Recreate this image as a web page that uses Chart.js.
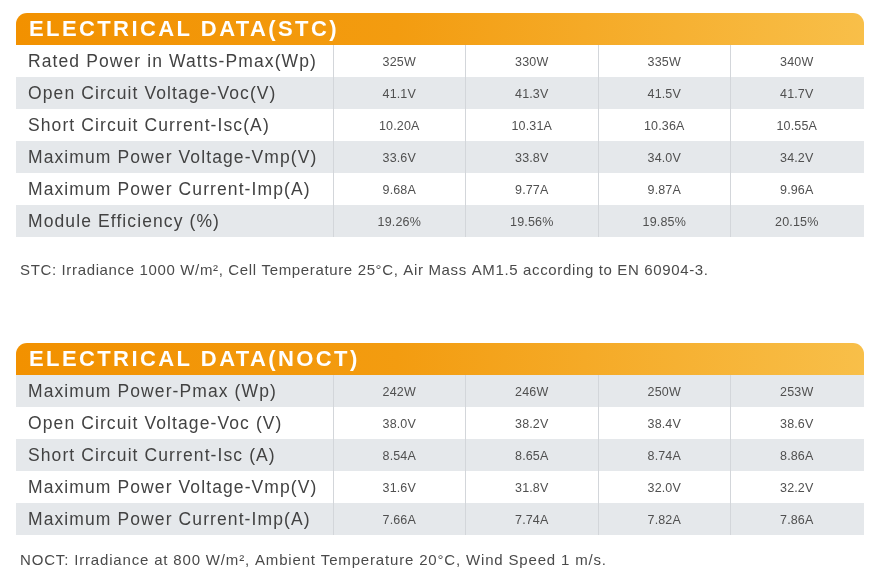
<!DOCTYPE html>
<html><head><meta charset="utf-8">
<script src="https://cdn.jsdelivr.net/npm/chart.js@4.4.1/dist/chart.umd.min.js"></script>
<style>
html,body{margin:0;padding:0;background:#fff;}
#wrap{position:relative;width:883px;height:585px;overflow:hidden;}
.box{position:absolute;left:0;width:883px;}
</style></head><body>
<div id="wrap">
  <div class="box" style="top:0;height:292px"><canvas id="stc"></canvas></div>
  <div class="box" style="top:292px;height:293px"><canvas id="noct"></canvas></div>
</div>
<script>
// ---- data ----
const columns = ['325W', '330W', '335W', '340W'];

const stcTitle = 'ELECTRICAL DATA(STC)';
const stcNote = 'STC: Irradiance 1000 W/m², Cell Temperature 25°C, Air Mass AM1.5 according to EN 60904-3.';
const stcRowLabels = [
  'Rated Power in Watts-Pmax(Wp)',
  'Open Circuit Voltage-Voc(V)',
  'Short Circuit Current-Isc(A)',
  'Maximum Power Voltage-Vmp(V)',
  'Maximum Power Current-Imp(A)',
  'Module Efficiency (%)'
];
const stcPmax = ['325W', '330W', '335W', '340W'];
const stcVoc = ['41.1V', '41.3V', '41.5V', '41.7V'];
const stcIsc = ['10.20A', '10.31A', '10.36A', '10.55A'];
const stcVmp = ['33.6V', '33.8V', '34.0V', '34.2V'];
const stcImp = ['9.68A', '9.77A', '9.87A', '9.96A'];
const stcEff = ['19.26%', '19.56%', '19.85%', '20.15%'];

const noctTitle = 'ELECTRICAL DATA(NOCT)';
const noctNote = 'NOCT: Irradiance at 800 W/m², Ambient Temperature 20°C, Wind Speed 1 m/s.';
const noctRowLabels = [
  'Maximum Power-Pmax (Wp)',
  'Open Circuit Voltage-Voc (V)',
  'Short Circuit Current-Isc (A)',
  'Maximum Power Voltage-Vmp(V)',
  'Maximum Power Current-Imp(A)'
];
const noctPmax = ['242W', '246W', '250W', '253W'];
const noctVoc = ['38.0V', '38.2V', '38.4V', '38.6V'];
const noctIsc = ['8.54A', '8.65A', '8.74A', '8.86A'];
const noctVmp = ['31.6V', '31.8V', '32.0V', '32.2V'];
const noctImp = ['7.66A', '7.74A', '7.82A', '7.86A'];

// ---- styling ----
const FONT = '"Liberation Sans", Arial, Helvetica, sans-serif';
const TABLE_LEFT = 16;
const HEADER_H = 32;

function fitSpacing(ctx, text, width) {
  ctx.letterSpacing = '0px';
  const w = ctx.measureText(text).width;
  return Math.max(0, (width - w) / (text.length - 1));
}

const tablePlugin = {
  id: 'tablePlugin',
  beforeDraw(chart, args, opts) {
    const {ctx, chartArea: a, scales: {y}} = chart;
    const n = y.getLabels().length;
    const band = (a.bottom - a.top) / n;
    const right = a.right + 1;
    ctx.save();
    const g = ctx.createLinearGradient(TABLE_LEFT, 0, right, 0);
    g.addColorStop(0, '#F29100');
    g.addColorStop(0.45, '#F39C10');
    g.addColorStop(1, '#F8BF49');
    ctx.fillStyle = g;
    ctx.beginPath();
    ctx.roundRect(TABLE_LEFT, a.top - HEADER_H, right - TABLE_LEFT, HEADER_H, [11, 11, 0, 0]);
    ctx.fill();
    ctx.fillStyle = '#E5E8EB';
    for (let i = 0; i < n; i++) {
      if (i % 2 === opts.stripe) {
        const cy = y.getPixelForValue(i);
        ctx.fillRect(TABLE_LEFT, cy - band / 2, right - TABLE_LEFT, band);
      }
    }
    ctx.restore();
    ctx.letterSpacing = '1.1px'; // row label tracking (used by y-axis ticks)
  },
  beforeDatasetsDraw(chart) {
    chart.ctx.letterSpacing = '0px';
  },
  afterDatasetsDraw(chart, args, opts) {
    const ctx = chart.ctx;
    ctx.save();
    ctx.letterSpacing = '0.15px';
    ctx.font = '12.5px ' + FONT;
    ctx.fillStyle = '#505050';
    ctx.textAlign = 'center';
    ctx.textBaseline = 'middle';
    chart.data.datasets.forEach((ds, r) => {
      const meta = chart.getDatasetMeta(r);
      meta.data.forEach((el, c) => {
        ctx.fillText(ds.data[c].text, el.x, el.y + 1.5);
      });
    });
    ctx.restore();
  },
  afterDraw(chart, args, opts) {
    const {ctx, chartArea: a} = chart;
    ctx.save();
    ctx.textAlign = 'left';
    ctx.textBaseline = 'alphabetic';
    ctx.fillStyle = '#FFFFFF';
    ctx.font = 'bold 22px ' + FONT;
    ctx.letterSpacing = '2.4px';
    ctx.fillText(opts.title, 29, a.top - 9);
    ctx.fillStyle = '#4A4A4A';
    ctx.font = '15px ' + FONT;
    ctx.letterSpacing = fitSpacing(ctx, opts.note, opts.noteWidth) + 'px';
    ctx.fillText(opts.note, 20, a.bottom + opts.noteGap);
    ctx.restore();
    ctx.letterSpacing = '0px';
  }
};

function makeTable(id, rowLabels, rows, opt) {
  const datasets = rows.map((vals, r) => ({
    label: rowLabels[r],
    data: vals.map((v, c) => ({x: columns[c], y: rowLabels[r], text: v})),
    pointRadius: 0,
    pointHoverRadius: 0
  }));
  return new Chart(document.getElementById(id), {
    type: 'scatter',
    data: {datasets},
    options: {
      responsive: true,
      maintainAspectRatio: false,
      animation: false,
      events: [],
      layout: {padding: {top: opt.top, left: 28, right: 20, bottom: opt.bottom}},
      plugins: {
        legend: {display: false},
        tooltip: {enabled: false},
        tablePlugin: {stripe: opt.stripe, title: opt.title, note: opt.note, noteWidth: opt.noteWidth, noteGap: opt.noteGap}
      },
      scales: {
        x: {
          type: 'category',
          labels: columns,
          offset: true,
          position: 'bottom',
          ticks: {display: false},
          border: {display: false},
          grid: {
            offset: true,
            drawTicks: false,
            lineWidth: 1,
            color: (c) => c.tick ? '#D3D6DA' : 'rgba(0,0,0,0)'
          }
        },
        y: {
          type: 'category',
          labels: rowLabels,
          offset: true,
          position: 'left',
          ticks: {
            crossAlign: 'far',
            autoSkip: false,
            padding: 0,
            labelOffset: 1.5,
            color: '#424242',
            font: {family: FONT, size: 17.5}
          },
          grid: {display: false, drawTicks: false},
          border: {display: false},
          afterFit: (s) => { s.width = 305; }
        }
      }
    },
    plugins: [tablePlugin]
  });
}

makeTable('stc', stcRowLabels, [stcPmax, stcVoc, stcIsc, stcVmp, stcImp, stcEff],
  {top: 45, bottom: 55, stripe: 1, title: stcTitle, note: stcNote, noteWidth: 688, noteGap: 38});
makeTable('noct', noctRowLabels, [noctPmax, noctVoc, noctIsc, noctVmp, noctImp],
  {top: 83, bottom: 50, stripe: 0, title: noctTitle, note: noctNote, noteWidth: 586, noteGap: 30});
</script>
</body></html>
